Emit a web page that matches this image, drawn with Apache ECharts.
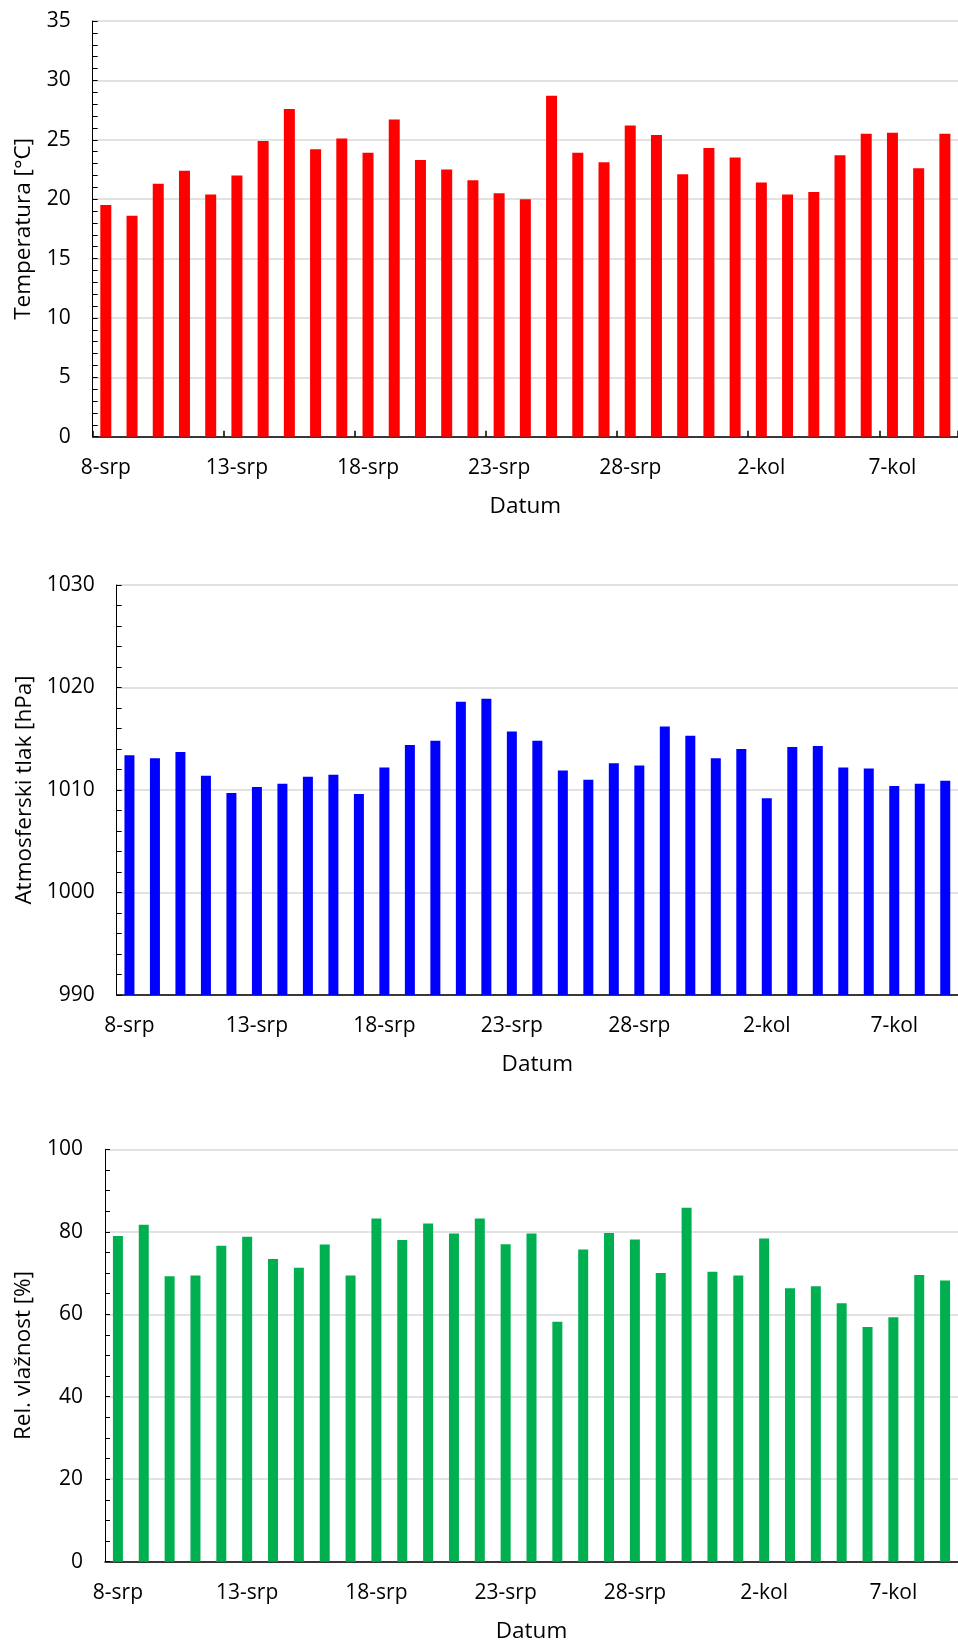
<!DOCTYPE html>
<html>
<head>
<meta charset="utf-8">
<script src="https://cdn.jsdelivr.net/npm/echarts@6/dist/echarts.min.js"></script>
<style>
html,body{margin:0;padding:0;background:#fff;}
#c{width:958px;height:1647px;}
</style>
</head>
<body>
<div id="c"></div>
<script>
const dates = ['8-srp','9-srp','10-srp','11-srp','12-srp','13-srp','14-srp','15-srp','16-srp','17-srp','18-srp','19-srp','20-srp','21-srp','22-srp','23-srp','24-srp','25-srp','26-srp','27-srp','28-srp','29-srp','30-srp','31-srp','1-kol','2-kol','3-kol','4-kol','5-kol','6-kol','7-kol','8-kol','9-kol'];
const temperature = [19.5,18.6,21.3,22.4,20.4,22.0,24.9,27.6,24.2,25.1,23.9,26.7,23.3,22.5,21.6,20.5,20.0,28.7,23.9,23.1,26.2,25.4,22.1,24.3,23.5,21.4,20.4,20.6,23.7,25.5,25.6,22.6,25.5];
const pressure = [1013.4,1013.1,1013.7,1011.4,1009.7,1010.3,1010.6,1011.3,1011.5,1009.6,1012.2,1014.4,1014.8,1018.6,1018.9,1015.7,1014.8,1011.9,1011.0,1012.6,1012.4,1016.2,1015.3,1013.1,1014.0,1009.2,1014.2,1014.3,1012.2,1012.1,1010.4,1010.6,1010.9];
const humidity = [79.0,81.7,69.2,69.4,76.6,78.8,73.4,71.3,76.9,69.4,83.2,78.0,82.0,79.6,83.2,77.0,79.6,58.2,75.7,79.7,78.1,70.0,85.8,70.3,69.4,78.4,66.3,66.8,62.7,56.9,59.3,69.5,68.2];

const FONT = 'Open Sans';
const TXT = '#000000';
const grids = [
  {left: 92.7, top: 21, width: 870.5, height: 415.7},
  {left: 116.7, top: 585, width: 846.4, height: 410},
  {left: 105, top: 1149.3, width: 858, height: 412.4}
];
const yNames = ['Temperatura [°C]', 'Atmosferski tlak [hPa]', 'Rel. vlažnost [%]'];
const yCfg = [
  {min: 0, max: 35, interval: 5, minor: 5, gap: 58},
  {min: 990, max: 1030, interval: 10, minor: 5, gap: 81},
  {min: 0, max: 100, interval: 20, minor: 4, gap: 70}
];
const xTicks = [true, false, false];
const seriesData = [temperature, pressure, humidity];
const colors = ['#FF0000', '#0000FF', '#00B050'];
const barWidths = [11, 10, 10];

const option = {
  animation: false,
  backgroundColor: '#ffffff',
  grid: grids.map(g => Object.assign({containLabel: false}, g)),
  xAxis: grids.map((g, i) => ({
    type: 'category',
    gridIndex: i,
    data: dates,
    boundaryGap: true,
    name: 'Datum',
    nameLocation: 'middle',
    nameGap: 58,
    nameTextStyle: {fontFamily: FONT, fontSize: 22.5, color: TXT},
    axisLine: {show: true, lineStyle: {color: '#000', width: 1.5}},
    axisTick: {show: xTicks[i], inside: true, length: 6, interval: 4, alignWithLabel: false, lineStyle: {color: '#000', width: 1.5}},
    axisLabel: {interval: 4, margin: 21, fontFamily: FONT, fontSize: 21, color: TXT},
    splitLine: {show: false}
  })),
  yAxis: grids.map((g, i) => ({
    type: 'value',
    gridIndex: i,
    min: yCfg[i].min,
    max: yCfg[i].max,
    interval: yCfg[i].interval,
    name: yNames[i],
    nameLocation: 'middle',
    nameGap: yCfg[i].gap,
    nameRotate: 90,
    nameTextStyle: {fontFamily: FONT, fontSize: 22.5, color: TXT},
    axisLine: {show: true, lineStyle: {color: '#000', width: 1}},
    axisTick: {show: true, inside: true, length: 5, lineStyle: {color: '#000', width: 1}},
    minorTick: {show: true, splitNumber: yCfg[i].minor, length: 5, lineStyle: {color: '#000', width: 1}},
    axisLabel: {margin: 22, fontFamily: FONT, fontSize: 21, color: TXT, formatter: v => String(v)},
    splitLine: {show: true, lineStyle: {color: '#d9d9d9', width: 1.5}}
  })),
  series: seriesData.map((d, i) => ({
    type: 'bar',
    xAxisIndex: i,
    yAxisIndex: i,
    data: d,
    barWidth: barWidths[i],
    itemStyle: {color: colors[i]},
    silent: true
  }))
};
const chart = echarts.init(document.getElementById('c'), null, {renderer: 'canvas'});
chart.setOption(option);
</script>
</body>
</html>
